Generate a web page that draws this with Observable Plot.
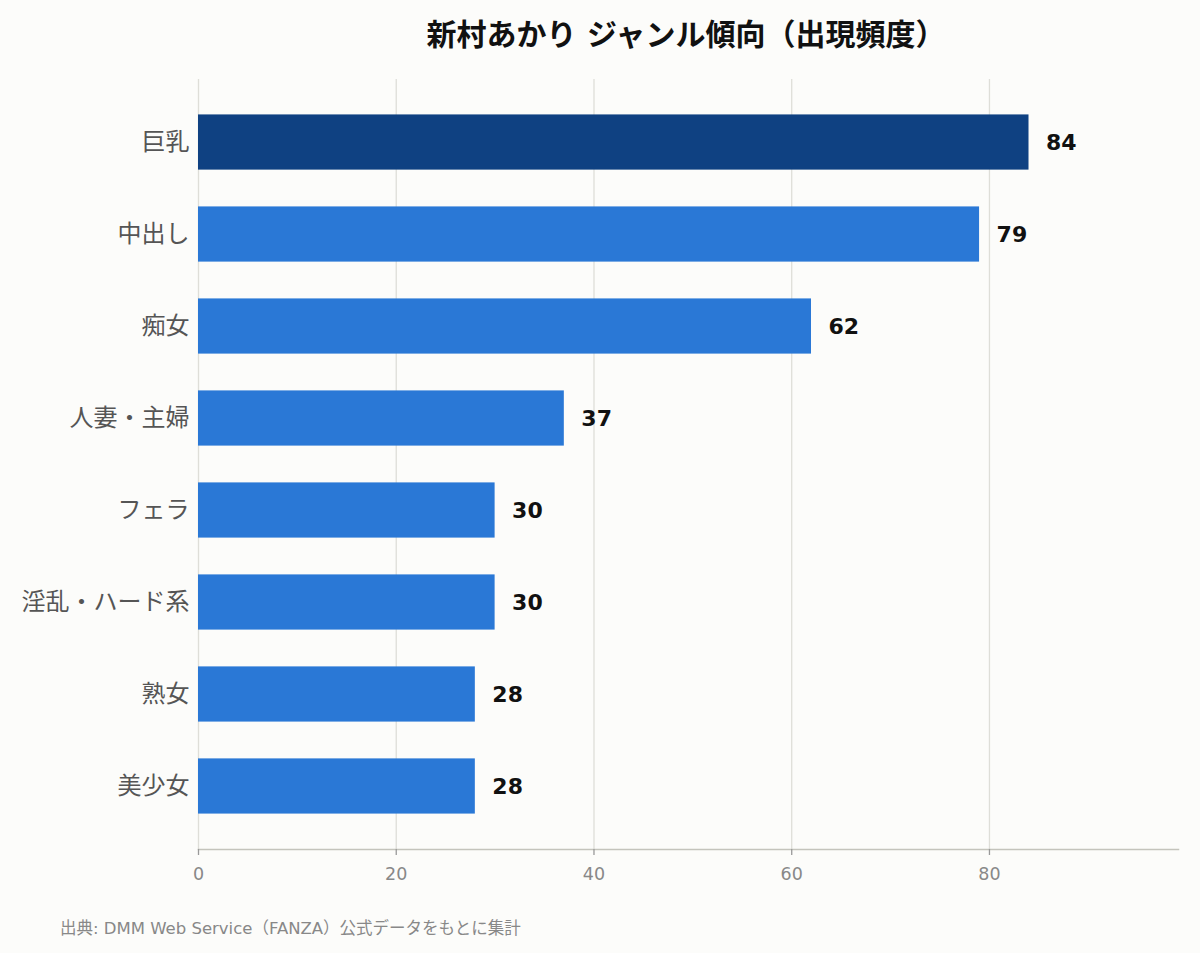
<!DOCTYPE html>
<html>
<head>
<meta charset="utf-8">
<script src="https://cdn.jsdelivr.net/npm/d3@7"></script>
<script src="https://cdn.jsdelivr.net/npm/@observablehq/plot@0.6"></script>
<style>
  html, body { margin: 0; padding: 0; background: #fcfcfa; }
  body { width: 1200px; height: 953px; position: relative; overflow: hidden;
         font-family: "DejaVu Sans", "Noto Sans CJK JP", sans-serif; }
  #title { position: absolute; top: 13px; left: 286px; width: 800px; text-align: center;
           font-size: 30px; font-weight: bold; color: #111; line-height: 44px; }
  #chart { position: absolute; top: 70px; left: 0; }
  #caption { position: absolute; left: 60px; top: 917px; font-size: 16.5px; color: #888; line-height: 24px; }
</style>
</head>
<body>
<div id="title">新村あかり ジャンル傾向（出現頻度）</div>
<div id="chart"></div>
<div id="caption">出典: DMM Web Service（FANZA）公式データをもとに集計</div>
<script>
const genres = ["巨乳", "中出し", "痴女", "人妻・主婦", "フェラ", "淫乱・ハード系", "熟女", "美少女"];
const counts = [84, 79, 62, 37, 30, 30, 28, 28];
const xTicks = [0, 20, 40, 60, 80];

const data = genres.map((g, i) => ({genre: g, count: counts[i], top: i === 0}));
const maxVal = d3.max(counts);

const plot = Plot.plot({
  width: 1200,
  height: 829,
  marginTop: 9,
  marginBottom: 50,
  marginLeft: 198,
  marginRight: 22,
  style: {background: "transparent", fontFamily: "'DejaVu Sans', 'Noto Sans CJK JP', sans-serif"},
  x: {domain: [0, maxVal * 1.18], axis: null},
  y: {domain: genres, paddingInner: 0.4, paddingOuter: 0.385, round: false, axis: null},
  marks: [
    Plot.gridX(xTicks, {stroke: "#deded8", strokeOpacity: 1, strokeWidth: 1.3}),
    Plot.barX(data, {y: "genre", x: "count", fill: d => d.top ? "#0f4182" : "#2a78d6"}),
    Plot.frame({anchor: "bottom", stroke: "#c4c4bc", strokeWidth: 1.5}),
    Plot.axisX({ticks: xTicks, tickSize: 6, tickPadding: 12, stroke: "#999", strokeWidth: 1.3, fill: "#888", fontSize: 17.5, tickFormat: d => d, label: null}),
    Plot.axisY({tickSize: 0, tickPadding: 9, fill: "#555", fontSize: 24, label: null}),
    Plot.text(data, {y: "genre", x: "count", text: d => String(d.count), dx: 17, textAnchor: "start",
      fontSize: 22, fontWeight: "bold", fill: "#111"})
  ]
});
document.getElementById("chart").appendChild(plot);
</script>
</body>
</html>
